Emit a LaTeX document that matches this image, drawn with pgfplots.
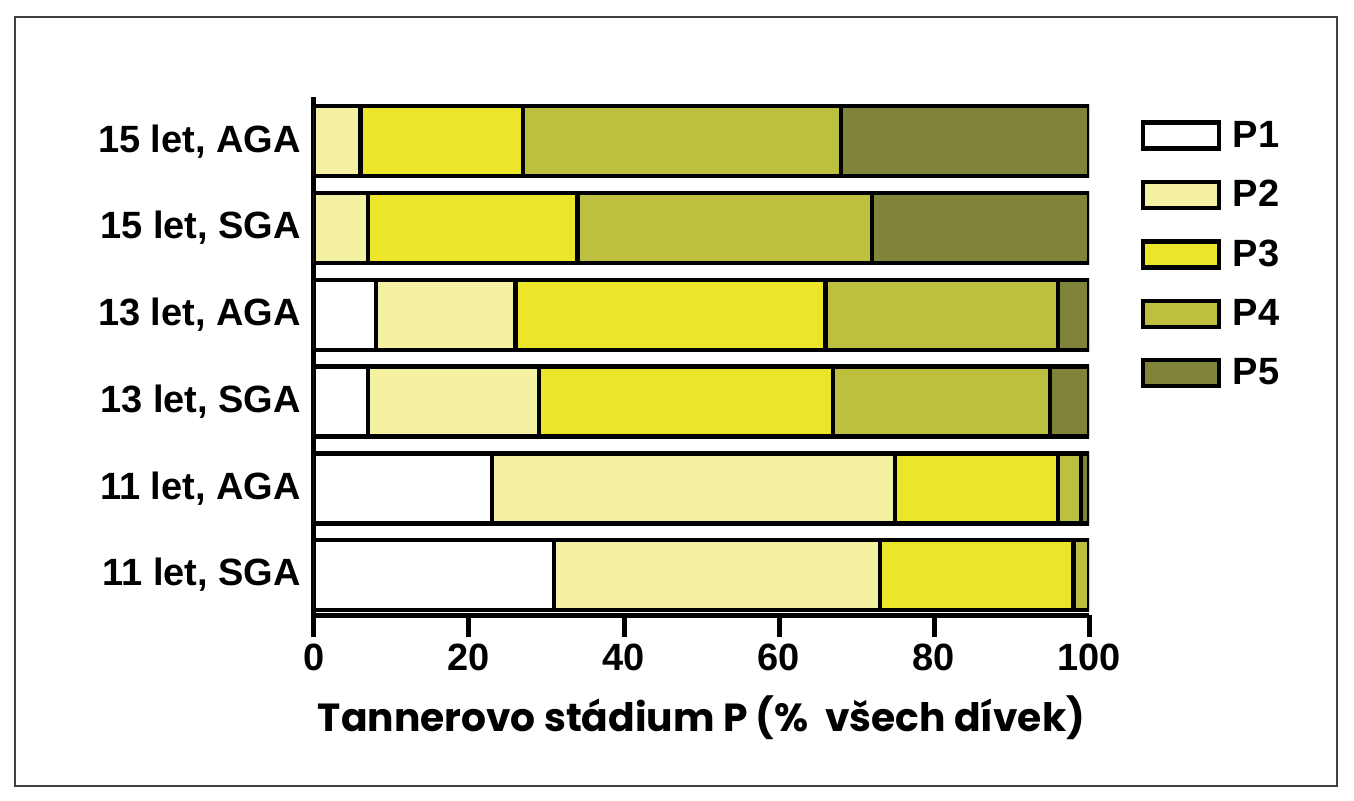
\documentclass[border=0pt]{standalone}
\usepackage{fontspec}
\setmainfont{Liberation Sans}
\newfontfamily\labfont{Poppins}
\usepackage{pgfplots}
\pgfplotsset{compat=1.18}

\definecolor{ptwo}{HTML}{F5F1A3}
\definecolor{pthree}{HTML}{EDE52A}
\definecolor{pfour}{HTML}{BCC03E}
\definecolor{pfive}{HTML}{7F8439}

\newcommand{\bigbf}{\bfseries\fontsize{19}{21}\selectfont}

\begin{document}
\begin{tikzpicture}
\useasboundingbox (-157pt,-92.5pt) rectangle (520pt,307.5pt);
\fill[white] (-157pt,-92.5pt) rectangle (520pt,307.5pt);
\draw[line width=1.3pt, black!75] (-149.5pt,-85.5pt) rectangle (511.5pt,299pt);
\begin{axis}[
    scale only axis,
    width=387.5pt, height=259pt,
    xbar stacked,
    bar width=35pt,
    xmin=0, xmax=100,
    ymin=-0.46, ymax=5.51,
    axis x line=bottom,
    axis y line=left,
    axis line style={line width=2.5pt, -},
    xtick={0,20,...,100},
    tick align=outside,
    major tick length=11pt,
    x tick style={line width=2.5pt, black},
    ytick={0,...,5},
    yticklabels={{11 let, SGA},{11 let, AGA},{13 let, SGA},{13 let, AGA},{15 let, SGA},{15 let, AGA}},
    y tick style={draw=none},
    tick label style={font=\bigbf},
    /pgf/number format/assume math mode=true,
    yticklabel style={xshift=8pt},
    xlabel={\labfont\bfseries\fontsize{19.6}{21}\selectfont Tannerovo stádium P (\%\ \ všech dívek)},
    xlabel style={at={(axis description cs:0.5,0)}, anchor=center, yshift=-51.5pt},
    every axis plot/.append style={draw=black, line width=2.2pt},
    legend image code/.code={\draw[#1, line width=2.2pt] (0pt,-6.5pt) rectangle (38pt,6.5pt);},
    legend style={draw=none, fill=none, at={(1.066,0.962)}, anchor=north west,
        font=\bigbf, row sep=11pt, column sep=4pt, inner sep=0pt,
        cells={anchor=west}},
]
\addplot[fill=white] coordinates {(31,0) (23,1) (7,2) (8,3) (0,4) (0,5)};
\addplot[fill=ptwo] coordinates {(42,0) (52,1) (22,2) (18,3) (7,4) (6,5)};
\addplot[fill=pthree] coordinates {(25,0) (21,1) (38,2) (40,3) (27,4) (21,5)};
\addplot[fill=pfour] coordinates {(2,0) (3,1) (28,2) (30,3) (38,4) (41,5)};
\addplot[fill=pfive] coordinates {(0,0) (1,1) (5,2) (4,3) (28,4) (32,5)};
\legend{P1,P2,P3,P4,P5}
\draw[line width=2.5pt] (axis cs:0,-0.46) -- ++(0,-11pt);
\end{axis}
\end{tikzpicture}
\end{document}
